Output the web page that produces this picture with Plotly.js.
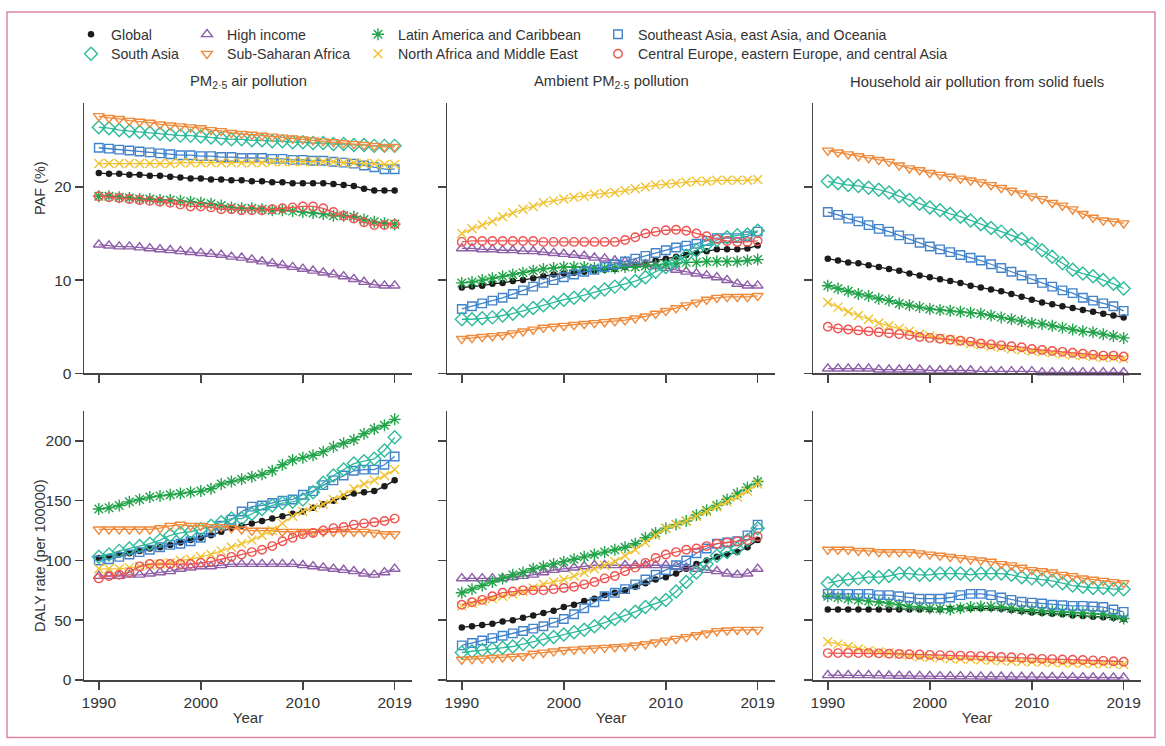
<!DOCTYPE html>
<html><head><meta charset="utf-8">
<script src="https://cdn.plot.ly/plotly-3.0.1.min.js"></script>
<style>html,body{margin:0;padding:0;background:#fff}#chart{width:1165px;height:746px}</style>
</head><body><div id="chart"></div>
<script>
// ---------- DATA ----------
const years = [1990,1991,1992,1993,1994,1995,1996,1997,1998,1999,2000,2001,2002,2003,2004,2005,2006,2007,2008,2009,2010,2011,2012,2013,2014,2015,2016,2017,2018,2019];
const xTickVals = [1990, 2000, 2010, 2019];
const xTickText = ['1990', '2000', '2010', '2019'];
const pafTickVals = [0, 10, 20];
const dalyTickVals = [0, 50, 100, 150, 200];

const seriesNames = ['Global', 'High income', 'Latin America and Caribbean', 'Southeast Asia, east Asia, and Oceania',
  'South Asia', 'Sub-Saharan Africa', 'North Africa and Middle East', 'Central Europe, eastern Europe, and central Asia'];

const panelTitles = ['PM<sub>2·5</sub> air pollution', 'Ambient PM<sub>2·5</sub> pollution', 'Household air pollution from solid fuels'];

// PAF (%) – PM2.5 air pollution
const pafPM_Global     = [21.5,21.4,21.4,21.3,21.3,21.2,21.2,21.1,21.0,20.9, 20.9,20.8,20.8,20.7,20.7,20.6,20.6,20.5,20.5,20.4, 20.4,20.4,20.4,20.3,20.2,20.1,19.8,19.6,19.6,19.6];
const pafPM_HighIncome = [13.8,13.7,13.6,13.6,13.5,13.4,13.3,13.2,13.1,13.0, 12.9,12.8,12.7,12.5,12.4,12.2,12.0,11.8,11.6,11.4, 11.2,11.0,10.8,10.6,10.4,10.1,9.8,9.5,9.4,9.4];
const pafPM_LatAm      = [19.0,19.0,18.9,18.8,18.7,18.7,18.6,18.6,18.5,18.4, 18.3,18.2,18.0,17.8,17.7,17.7,17.6,17.5,17.5,17.4, 17.3,17.2,17.1,16.9,16.9,16.8,16.5,16.25,16.1,16.0];
const pafPM_SEAsia     = [24.2,24.1,24.0,23.9,23.8,23.7,23.6,23.5,23.4,23.4, 23.3,23.3,23.2,23.2,23.1,23.1,23.1,23.0,23.0,22.9, 22.9,22.8,22.8,22.7,22.6,22.5,22.3,22.1,21.9,21.9];
const pafPM_SouthAsia  = [26.4,26.3,26.1,26.0,25.9,25.8,25.7,25.6,25.5,25.5, 25.4,25.3,25.2,25.1,25.1,25.0,25.0,24.9,24.9,24.8, 24.8,24.7,24.7,24.6,24.6,24.5,24.5,24.4,24.4,24.4];
const pafPM_SSA        = [27.6,27.4,27.3,27.1,27.0,26.9,26.7,26.6,26.5,26.4, 26.3,26.1,26.0,25.8,25.7,25.6,25.5,25.4,25.3,25.2, 25.1,25.0,24.9,24.8,24.7,24.6,24.5,24.4,24.3,24.3];
const pafPM_NAME       = [22.5,22.5,22.5,22.5,22.5,22.5,22.5,22.5,22.6,22.6, 22.6,22.6,22.6,22.6,22.6,22.6,22.6,22.7,22.7,22.7, 22.7,22.7,22.7,22.7,22.6,22.6,22.5,22.5,22.4,22.4];
const pafPM_CEE        = [19.0,18.9,18.8,18.7,18.6,18.5,18.4,18.3,18.1,17.9, 17.9,17.8,17.6,17.6,17.5,17.5,17.5,17.6,17.7,17.8, 17.9,17.9,17.7,17.3,16.9,16.6,16.2,15.9,15.9,16.0];

// PAF (%) – Ambient PM2.5 pollution
const pafAmb_Global     = [9.2,9.3,9.4,9.6,9.7,9.9,10.0,10.2,10.4,10.6, 10.7,10.8,10.9,11.0,11.1,11.2,11.4,11.6,11.8,12.1, 12.3,12.5,12.7,12.9,13.1,13.3,13.3,13.3,13.4,13.7];
const pafAmb_HighIncome = [13.4,13.4,13.3,13.3,13.2,13.2,13.1,13.1,13.0,12.9, 12.8,12.7,12.6,12.4,12.3,12.1,12.0,11.8,11.7,11.5, 11.3,11.1,10.9,10.7,10.5,10.3,10.0,9.6,9.4,9.4];
const pafAmb_LatAm      = [9.7,9.8,10.0,10.2,10.4,10.6,10.8,11.0,11.2,11.3, 11.4,11.4,11.4,11.3,11.3,11.3,11.4,11.4,11.5,11.6, 11.7,11.8,11.9,11.9,12.0,12.0,12.0,12.0,12.1,12.2];
const pafAmb_SEAsia     = [6.9,7.2,7.5,7.8,8.1,8.5,8.9,9.3,9.7,10.0, 10.3,10.6,10.9,11.1,11.4,11.7,12.0,12.3,12.6,12.9, 13.2,13.5,13.7,13.9,14.2,14.5,14.5,14.5,14.7,15.2];
const pafAmb_SouthAsia  = [5.8,5.8,5.9,6.0,6.2,6.4,6.7,7.0,7.3,7.6, 7.9,8.1,8.4,8.7,9.0,9.3,9.6,9.9,10.3,10.9, 11.4,12.0,12.6,13.2,13.8,14.3,14.6,14.8,14.9,15.3];
const pafAmb_SSA        = [3.7,3.8,3.9,4.0,4.1,4.3,4.5,4.7,4.9,5.0, 5.1,5.2,5.3,5.4,5.5,5.6,5.7,5.9,6.1,6.4, 6.7,7.0,7.3,7.6,7.9,8.1,8.2,8.2,8.2,8.3];
const pafAmb_NAME       = [15.0,15.5,15.9,16.3,16.8,17.2,17.6,17.9,18.3,18.5, 18.7,18.9,19.0,19.2,19.3,19.4,19.6,19.8,20.0,20.2, 20.3,20.4,20.5,20.6,20.6,20.7,20.7,20.7,20.7,20.8];
const pafAmb_CEE        = [14.1,14.2,14.2,14.2,14.2,14.2,14.2,14.2,14.1,14.1, 14.1,14.1,14.1,14.1,14.1,14.1,14.3,14.6,15.0,15.2, 15.35,15.4,15.3,15.0,14.7,14.4,14.2,14.1,14.1,14.2];

// PAF (%) – Household air pollution from solid fuels
const pafHAP_Global     = [12.3,12.1,11.9,11.8,11.6,11.4,11.2,11.0,10.7,10.5, 10.3,10.1,9.9,9.7,9.4,9.2,9.0,8.8,8.5,8.2, 7.9,7.6,7.4,7.2,7.0,6.8,6.6,6.4,6.2,6.0];
const pafHAP_HighIncome = [0.5,0.5,0.5,0.5,0.5,0.4,0.4,0.4,0.4,0.4, 0.3,0.3,0.3,0.3,0.3,0.2,0.2,0.2,0.2,0.2, 0.2,0.1,0.1,0.1,0.1,0.1,0.1,0.1,0.1,0.1];
const pafHAP_LatAm      = [9.4,9.1,8.8,8.5,8.3,8.0,7.8,7.5,7.3,7.1, 6.9,6.8,6.7,6.6,6.5,6.4,6.2,6.0,5.8,5.6, 5.4,5.3,5.1,4.9,4.7,4.5,4.4,4.2,4.0,3.8];
const pafHAP_SEAsia     = [17.3,17.0,16.6,16.3,15.9,15.5,15.2,14.8,14.4,14.0, 13.6,13.3,13.0,12.7,12.4,12.1,11.7,11.3,10.9,10.5, 10.1,9.7,9.3,8.9,8.6,8.1,7.8,7.5,7.2,6.7];
const pafHAP_SouthAsia  = [20.6,20.4,20.2,20.1,19.9,19.7,19.4,19.0,18.6,18.2, 17.8,17.5,17.1,16.8,16.4,16.0,15.6,15.2,14.8,14.4, 13.9,13.2,12.5,11.8,11.1,10.7,10.4,10.0,9.6,9.1];
const pafHAP_SSA        = [23.9,23.7,23.5,23.3,23.1,22.9,22.7,22.3,22.0,21.8, 21.5,21.3,21.1,20.9,20.7,20.5,20.2,19.9,19.6,19.3, 19.0,18.7,18.3,18.0,17.6,17.1,16.7,16.4,16.3,16.1];
const pafHAP_NAME       = [7.6,7.1,6.6,6.2,5.8,5.4,5.1,4.8,4.5,4.2, 4.0,3.8,3.6,3.4,3.2,3.1,2.9,2.8,2.6,2.5, 2.4,2.3,2.2,2.1,2.0,1.9,1.8,1.7,1.7,1.6];
const pafHAP_CEE        = [5.0,4.8,4.7,4.6,4.5,4.4,4.3,4.2,4.1,3.9, 3.8,3.7,3.6,3.5,3.4,3.2,3.1,3.0,2.9,2.8, 2.6,2.5,2.4,2.3,2.2,2.1,2.0,1.9,1.9,1.8];

// DALY rate (per 100000) – PM2.5 air pollution
const dalyPM_Global     = [102,103,105,106,108,110,111,113,115,117, 119,121,124,127,129,131,133,135,137,139, 141,144,147,150,153,156,157,158,162,167];
const dalyPM_HighIncome = [87,87,87,88,88,89,90,91,93,94, 95,95,96,97,97,97,97,97,97,97, 96,95,94,93,92,91,89,88,90,93];
const dalyPM_LatAm      = [143,144,146,149,151,153,154,155,156,157, 158,160,164,166,168,170,172,175,180,184, 186,188,191,195,198,201,206,210,213,218];
const dalyPM_SEAsia     = [100,101,103,105,107,109,111,113,114,116, 119,124,129,134,141,145,146,148,150,151, 155,158,163,167,171,175,176,176,180,187];
const dalyPM_SouthAsia  = [103,105,108,110,112,114,117,121,123,124, 126,129,132,135,135,139,143,146,148,149, 151,157,165,171,176,181,183,185,192,203];
const dalyPM_SSA        = [126,126,126,126,126,126,127,129,130,129, 129,128,128,127,126,125,125,125,124,124, 124,124,124,124,124,124,124,123,122,122];
const dalyPM_NAME       = [93,93,93,94,95,96,97,98,100,101, 103,105,108,111,114,117,121,125,131,137, 141,144,147,151,155,160,164,167,171,176];
const dalyPM_CEE        = [85,87,88,90,95,97,97,97,97,97, 98,99,101,103,105,107,109,112,116,119, 122,123,125,127,128,130,131,132,133,135];

// DALY rate (per 100000) – Ambient PM2.5 pollution
const dalyAmb_Global     = [44,45,46,47,49,50,52,54,56,58, 61,63,66,68,71,73,75,78,81,84, 86,89,93,97,100,103,105,107,111,117];
const dalyAmb_HighIncome = [85,85,85,85,85,86,87,88,90,92, 93,94,95,96,96,96,96,96,96,96, 96,95,94,93,92,91,89,88,89,93];
const dalyAmb_LatAm      = [73,76,79,82,85,88,90,93,95,97, 99,101,103,105,107,109,111,114,119,123, 127,130,133,138,142,146,151,156,161,166];
const dalyAmb_SEAsia     = [29,31,33,35,37,39,41,43,45,48, 51,55,60,65,70,73,76,80,84,88, 92,96,100,106,110,114,115,116,121,130];
const dalyAmb_SouthAsia  = [23,24,25,26,27,28,30,32,34,36, 38,40,42,45,48,51,54,57,61,64, 67,74,82,90,97,104,107,110,117,127];
const dalyAmb_SSA        = [17,17.5,18,18.5,19,19.5,20,22,23,24, 25,25.5,26,26.5,27,27.5,28,29,30,31.5, 33,34.5,36,37.5,39,41,41.5,42,42,42];
const dalyAmb_NAME       = [62,64,66,68,70,72,74,77,80,82, 84,87,90,93,96,99,104,109,115,121, 127,130,133,137,141,145,149,153,158,164];
const dalyAmb_CEE        = [63,65,67,70,73,74,75,75,75,76, 77,78,80,82,85,87,91,94,98,102, 105,107,109,110,112,114,115,116,117,120];

// DALY rate (per 100000) – Household air pollution from solid fuels
const dalyHAP_Global     = [59,59,59,59,59,59,59,59,59,59, 59,59,59.5,60,60,60,60,59.5,58.5,57.5, 56.5,56,55.5,55,54,53.5,53,52.5,52,51];
const dalyHAP_HighIncome = [4,4,4,4,4,3.8,3.6,3.5,3.4,3.3, 3.2,3.1,3,3,2.9,2.8,2.8,2.7,2.6,2.5, 2.5,2.4,2.3,2.3,2.2,2.2,2.1,2.0,2.0,1.9];
const dalyHAP_LatAm      = [70,69,68,67,66,65.5,64.5,63,61.5,61, 60,59.5,59,60,61,61.5,61.5,61,60,59, 58.5,58,57.5,57,56.5,56,55.5,55,53.5,51.5];
const dalyHAP_SEAsia     = [72,72,72,72,72,71,71,70,69,68, 68,68,69,71,72,72,71,69,67,65.5, 64.7,64,63,62.5,62,62,61.5,61,59,57];
const dalyHAP_SouthAsia  = [81,83,84,85,86,86,87,89,89,88, 88,89,89,89,88,89,89,89,88,86, 85,84,83,81,79,78,77,77,76,76];
const dalyHAP_SSA        = [109,109,109,108,108,107,107,107,107,106, 105,104,103,102,101,100,99,97,96,94, 92,91,90,88,87,85,84,83,82,81];
const dalyHAP_NAME       = [32,30,28,26,24.5,23.5,22.5,21.5,20.5,19.5, 19,18.5,18,17.5,17.5,17,16.5,16,15.7,15.5, 15.3,15,14.8,14.5,14.2,14,13.8,13.5,13.3,13];
const dalyHAP_CEE        = [22.5,22.5,22.5,22.5,22.5,22.3,22,21.8,21.6,21.3, 21,20.8,20.6,20.4,20.2,20,19.7,19.3,19,18.5, 18,17.7,17.5,17.2,17,16.7,16.4,16,15.7,15.3];

// ---------- STYLE ----------
const W = 1165, H = 746;
const FONT = 'Liberation Sans, Arial, sans-serif';
const TXT = '#333333';
const AX = '#454545';
const styles = [
  {color:'#1c1c1c', symbol:'circle',             size:6.5, fill:true},
  {color:'#8e5fa8', symbol:'triangle-up-open',   size:9.5},
  {color:'#22a34a', symbol:'asterisk-open',      size:10},
  {color:'#4083cb', symbol:'square-open',        size:8.5},
  {color:'#2dbb9b', symbol:'diamond-open',       size:10},
  {color:'#ef8a3b', symbol:'triangle-down-open', size:9.5},
  {color:'#f0c230', symbol:'x-thin-open',        size:9},
  {color:'#ee5451', symbol:'circle-open',        size:8.5}
];

const panels = [
  [pafPM_Global,pafPM_HighIncome,pafPM_LatAm,pafPM_SEAsia,pafPM_SouthAsia,pafPM_SSA,pafPM_NAME,pafPM_CEE],
  [pafAmb_Global,pafAmb_HighIncome,pafAmb_LatAm,pafAmb_SEAsia,pafAmb_SouthAsia,pafAmb_SSA,pafAmb_NAME,pafAmb_CEE],
  [pafHAP_Global,pafHAP_HighIncome,pafHAP_LatAm,pafHAP_SEAsia,pafHAP_SouthAsia,pafHAP_SSA,pafHAP_NAME,pafHAP_CEE],
  [dalyPM_Global,dalyPM_HighIncome,dalyPM_LatAm,dalyPM_SEAsia,dalyPM_SouthAsia,dalyPM_SSA,dalyPM_NAME,dalyPM_CEE],
  [dalyAmb_Global,dalyAmb_HighIncome,dalyAmb_LatAm,dalyAmb_SEAsia,dalyAmb_SouthAsia,dalyAmb_SSA,dalyAmb_NAME,dalyAmb_CEE],
  [dalyHAP_Global,dalyHAP_HighIncome,dalyHAP_LatAm,dalyHAP_SEAsia,dalyHAP_SouthAsia,dalyHAP_SSA,dalyHAP_NAME,dalyHAP_CEE]
];

function markerOf(st) {
  return {symbol: st.symbol, size: st.size, color: st.color,
          line: {color: st.color, width: st.fill ? 0 : 1.4}};
}

const traces = [];
panels.forEach((series, p) => {
  const ax = p === 0 ? '' : String(p + 1);
  series.forEach((vals, i) => {
    const st = styles[i];
    traces.push({
      type: 'scatter', mode: 'lines+markers', x: years, y: vals,
      xaxis: 'x' + ax, yaxis: 'y' + ax, name: seriesNames[i], showlegend: false,
      line: {color: st.color, width: 1.3}, marker: markerOf(st),
      cliponaxis: false, hoverinfo: 'skip'
    });
  });
});

// legend-only entries (marker symbol only, no line)
const legendPos = [
  [91, 33], [207, 33], [378, 33], [618, 33],
  [91, 52.5], [207, 52.5], [378, 52.5], [618, 52.5]
];
const legendOrder = [0, 1, 2, 3, 4, 5, 6, 7];
const layout = {
  width: W, height: H, margin: {l:0, r:0, t:0, b:0},
  paper_bgcolor: '#ffffff', plot_bgcolor: 'rgba(0,0,0,0)',
  font: {family: FONT, size: 15, color: TXT},
  annotations: [], shapes: []
};
legendOrder.forEach((i, k) => {
  const key = k === 0 ? 'legend' : 'legend' + (k + 1);
  const st = styles[i];
  traces.push({
    type: 'scatter', mode: 'markers', x: [null], y: [null], xaxis: 'x', yaxis: 'y',
    name: seriesNames[i], showlegend: true, legend: key, marker: markerOf(st), hoverinfo: 'skip'
  });
  const [sx, sy] = legendPos[k];
  layout[key] = {
    x: (sx - 20) / W, xanchor: 'left', y: 1 - (sy - 14.5) / H, yanchor: 'top',
    bgcolor: 'rgba(0,0,0,0)', borderwidth: 0, font: {family: FONT, size: 14.2, color: TXT}
  };
});

const xDom = [[84, 412], [447, 775], [813, 1141]];
const yDom = [[373.3, 103], [680, 411]];
const xRange = [1988.55, 2020.7];

for (let p = 0; p < 6; p++) {
  const row = p < 3 ? 0 : 1, col = p % 3;
  const ax = p === 0 ? '' : String(p + 1);
  const xa = {
    domain: [xDom[col][0] / W, xDom[col][1] / W], range: xRange, anchor: 'y' + ax,
    showline: true, linecolor: AX, linewidth: 1.5, ticks: 'outside', ticklen: 8, tickwidth: 1.5, tickcolor: AX,
    tickvals: xTickVals, ticktext: xTickText, showticklabels: row === 1,
    tickfont: {family: FONT, size: 15.5, color: TXT},
    showgrid: false, zeroline: false, fixedrange: true
  };
  if (row === 1) xa.title = {text: 'Year', font: {family: FONT, size: 15, color: TXT}, standoff: 2};
  const ya = {
    domain: [1 - yDom[row][0] / H, 1 - yDom[row][1] / H], anchor: 'x' + ax,
    range: row === 0 ? [0, 29] : [0, 225],
    tickvals: row === 0 ? pafTickVals : dalyTickVals, showticklabels: col === 0,
    showline: true, linecolor: AX, linewidth: 1.5, ticks: 'outside', ticklen: 8, tickwidth: 1.5, tickcolor: AX,
    tickfont: {family: FONT, size: 15.5, color: TXT},
    showgrid: false, zeroline: false, fixedrange: true
  };
  layout['xaxis' + ax] = xa;
  layout['yaxis' + ax] = ya;
}

// column titles
panelTitles.forEach((t, c) => {
  layout.annotations.push({
    text: t, xref: 'paper', yref: 'paper', x: (xDom[c][0] + xDom[c][1]) / 2 / W, y: 1 - 82 / H,
    xanchor: 'center', yanchor: 'middle', showarrow: false, font: {family: FONT, size: 14.8, color: TXT}
  });
});
// y-axis titles
[['PAF (%)', 188], ['DALY rate (per 100000)', 556]].forEach(([t, py]) => {
  layout.annotations.push({
    text: t, xref: 'paper', yref: 'paper', x: 40 / W, y: 1 - py / H, textangle: -90,
    xanchor: 'center', yanchor: 'middle', showarrow: false, font: {family: FONT, size: 14.5, color: TXT}
  });
});
// outer frame
layout.shapes.push({type: 'rect', xref: 'paper', yref: 'paper', x0: 7 / W, x1: 1155 / W, y0: 1 - 737.5 / H, y1: 1 - 12 / H,
  line: {color: '#dc88a6', width: 1.5}, fillcolor: 'rgba(0,0,0,0)'});

Plotly.newPlot('chart', traces, layout, {displayModeBar: false, staticPlot: true});
</script>
</body></html>
